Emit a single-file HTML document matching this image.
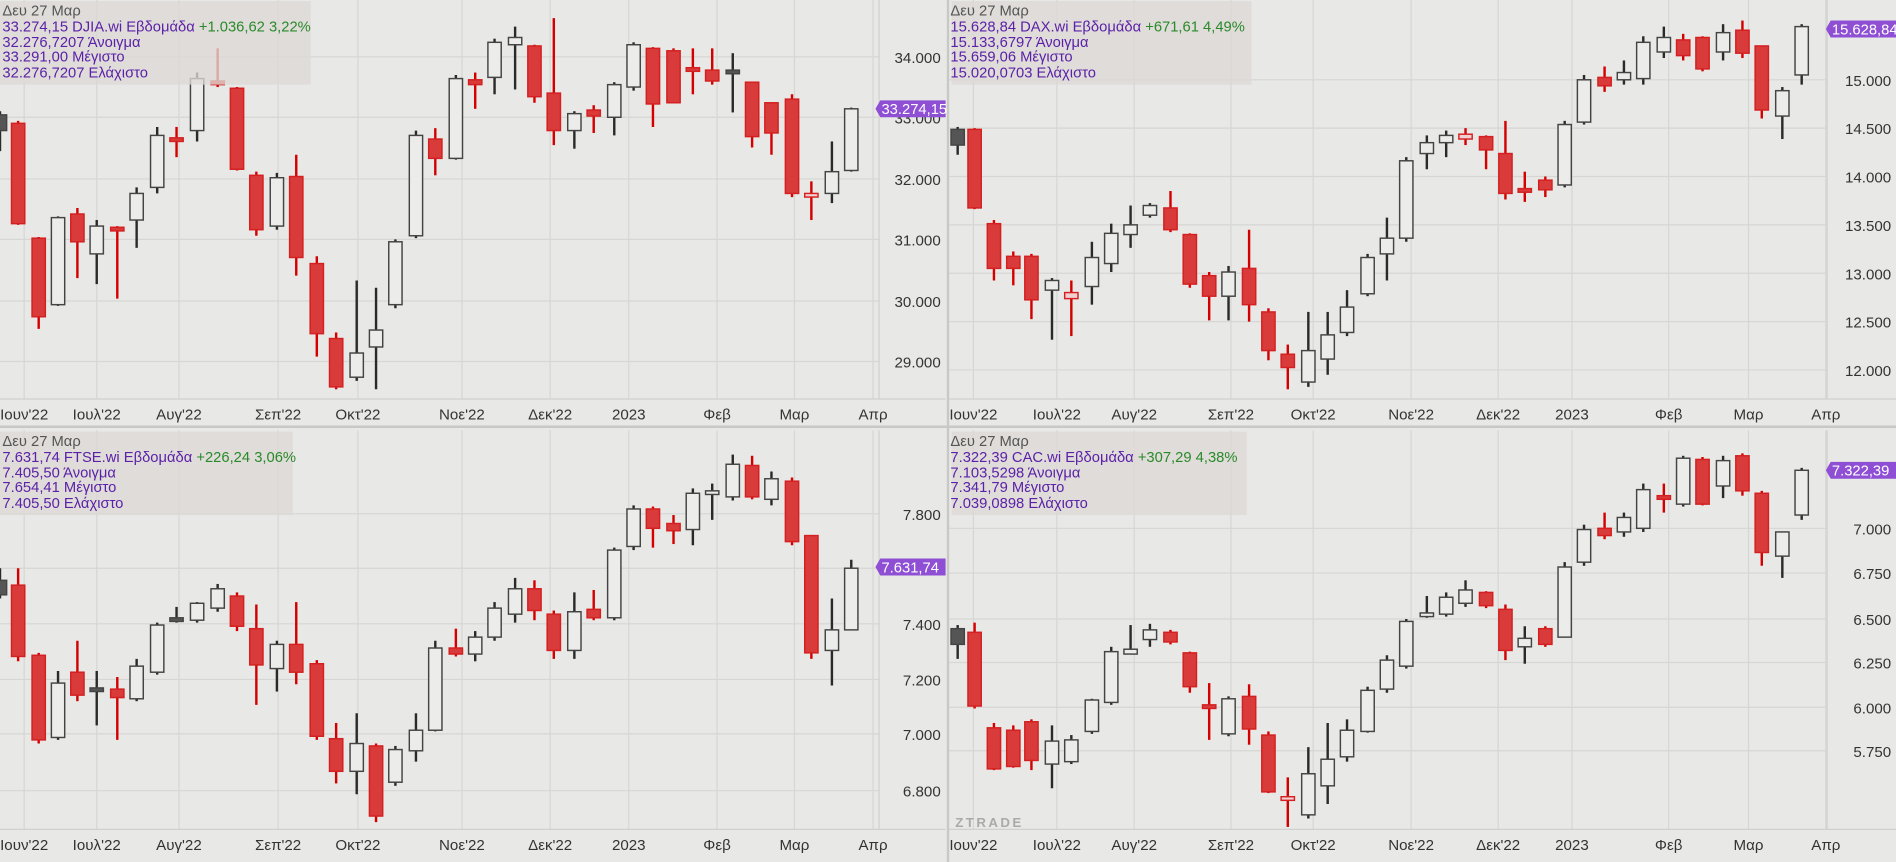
<!DOCTYPE html>
<html><head><meta charset="utf-8"><style>
html,body{margin:0;padding:0;background:#e8e8e6;overflow:hidden}
svg{display:block}
text{font-family:"Liberation Sans","DejaVu Sans",sans-serif}
</style></head><body>
<svg id="s" width="1896" height="862" viewBox="0 0 1568 713" preserveAspectRatio="none" xmlns="http://www.w3.org/2000/svg">
<rect width="1568" height="713" fill="#e8e8e6"/>
<g id="g"></g>
</svg>
<script>
const NS="http://www.w3.org/2000/svg",G=document.getElementById('g');
function el(t,a,txt){const e=document.createElementNS(NS,t);for(const k in a)e.setAttribute(k,a[k]);if(txt!=null)e.textContent=txt;G.appendChild(e);return e;}
function line(x1,y1,x2,y2,c,w){el('line',{x1,y1,x2,y2,stroke:c,'stroke-width':w||1});}
const months=["Ιουν'22","Ιουλ'22","Αυγ'22","Σεπ'22","Οκτ'22","Νοε'22","Δεκ'22","2023","Φεβ","Μαρ","Απρ"];
function panel(o){
 const {x0,y0,w,plotW,plotH,mx,yl,legend,price,data}=o;
 mx.forEach(x=>line(x0+x,y0,x0+x,y0+plotH,'#d6d6d4',1));
 yl.forEach(([t,y])=>{line(x0,y0+y,x0+plotW,y0+y,'#d6d6d4',1);
   el('text',{x:x0+w-4,y:y0+y+5,'font-size':12.5,fill:'#333','text-anchor':'end'},t);});
 line(x0+plotW,y0,x0+plotW,y0+plotH,'#d0d0ce',1);
 line(x0,y0+plotH,x0+w,y0+plotH,'#d0d0ce',1);
 mx.forEach((x,i)=>el('text',{x:x0+x,y:y0+plotH+17,'font-size':12.5,fill:'#333','text-anchor':'middle'},months[i]));
 data.forEach(([x,bt,bb,wt,wb,c])=>{
  line(x,wt,x,wb,c=='r'||c=='h'?'#d40000':'#2a2a2a',2);
  let h=Math.max(bb-bt,3);
  let fill=c=='r'?'#d93a3a':c=='g'?'#555':c=='h'?'#f0d0d0':'#ececea';
  let st=c=='r'||c=='h'?'#d42020':'#444';
  el('rect',{x:x-5.5,y:bt,width:11,height:h,fill,stroke:st,'stroke-width':1.2});
 });
 const [lx,lw,l]=legend;
 el('rect',{x:x0+lx,y:y0+1,width:lw,height:69,fill:'#dcd9d5','fill-opacity':0.78});
 el('text',{x:x0+2,y:y0+13,'font-size':12.2,fill:'#555'},'Δευ 27 Μαρ');
 const t=el('text',{x:x0+2,y:y0+26,'font-size':12.2,fill:'#5b21a8'});
 const s1=document.createElementNS(NS,'tspan');s1.textContent=l[0];t.appendChild(s1);
 const s2=document.createElementNS(NS,'tspan');s2.setAttribute('fill','#2a8a2a');s2.textContent=l[1];t.appendChild(s2);
 el('text',{x:x0+2,y:y0+39,'font-size':12.2,fill:'#5b21a8'},l[2]);
 el('text',{x:x0+2,y:y0+51,'font-size':12.2,fill:'#5b21a8'},l[3]);
 el('text',{x:x0+2,y:y0+64,'font-size':12.2,fill:'#5b21a8'},l[4]);
 const [pt,py]=price,px=x0+w-54;
 el('path',{d:`M${px-4} ${y0+py} L${px} ${y0+py-7} L${x0+w} ${y0+py-7} L${x0+w} ${y0+py+7} L${px} ${y0+py+7}Z`,fill:'#8e4fd4'});
 el('text',{x:px+1,y:y0+py+4.5,'font-size':12.2,fill:'#fff'},pt);
}
const mxL=[20,80,148,230,296,382,455,520,593,657,722];
const mxR=[21,90,154,234,302,383,455,516,596,662,726];
panel({x0:0,y0:0,w:782,plotW:727,plotH:330,mx:mxL,
 yl:[['34.000',47],['33.000',97],['32.000',148],['31.000',198],['30.000',249],['29.000',299]],
 legend:[0,257,['33.274,15 DJIA.wi Εβδομάδα ','+1.036,62 3,22%','32.276,7207 Άνοιγμα','33.291,00 Μέγιστο','32.276,7207 Ελάχιστο']],
 price:['33.274,15',90],
 data:[[0,95,108,92,125,'g'],[15,102,185,100,186,'r'],[32,197,262,196,272,'r'],[48,180,252,179,253,'w'],[64,177,200,172,230,'r'],[80,187,210,182,235,'w'],[97,188,190,187,247,'r'],[113,160,182,155,205,'w'],[130,112,155,105,160,'w'],[146,114,116,105,130,'r'],[163,65,108,60,117,'w'],[180,67,69,40,72,'r'],[196,73,140,72,141,'r'],[212,145,190,142,195,'r'],[229,147,187,143,190,'w'],[245,146,213,128,228,'r'],[262,218,276,212,295,'r'],[278,280,320,275,322,'r'],[295,292,312,232,315,'w'],[311,273,287,238,322,'w'],[327,200,252,198,255,'w'],[344,112,195,108,197,'w'],[360,115,131,106,145,'r'],[377,65,131,62,132,'w'],[393,66,70,60,90,'r'],[409,35,64,32,78,'w'],[426,31,37,22,74,'w'],[442,38,80,37,85,'r'],[458,77,108,15,120,'r'],[475,94,108,92,123,'w'],[491,91,96,87,110,'r'],[508,70,97,68,112,'w'],[524,37,72,35,75,'w'],[540,40,86,39,105,'r'],[557,42,85,40,85,'r'],[573,56,58,40,78,'r'],[589,58,67,40,70,'r'],[606,58,61,44,93,'g'],[622,68,113,68,122,'r'],[638,85,110,85,128,'r'],[655,82,160,78,163,'r'],[671,160,162,150,182,'h'],[688,142,160,117,168,'w'],[704,90,141,89,142,'w']]});
panel({x0:784,y0:0,w:784,plotW:727,plotH:330,mx:mxR,
 yl:[['15.000',66],['14.500',106],['14.000',146],['13.500',186],['13.000',226],['12.500',266],['12.000',306]],
 legend:[3,248,['15.628,84 DAX.wi Εβδομάδα ','+671,61 4,49%','15.133,6797 Άνοιγμα','15.659,06 Μέγιστο','15.020,0703 Ελάχιστο']],
 price:['15.628,84',24],
 data:[[792,107,120,105,128,'g'],[806,107,172,106,173,'r'],[822,185,222,182,232,'r'],[838,212,222,208,236,'r'],[853,212,248,210,264,'r'],[870,232,240,230,281,'w'],[886,242,247,232,278,'h'],[903,213,237,200,252,'w'],[919,193,218,185,225,'w'],[935,186,194,170,205,'w'],[951,170,178,168,180,'w'],[968,172,190,158,192,'r'],[984,194,235,193,238,'r'],[1000,228,245,225,265,'r'],[1016,225,245,220,265,'w'],[1033,222,252,190,266,'r'],[1049,258,290,255,298,'r'],[1065,293,304,285,322,'r'],[1082,290,316,258,320,'w'],[1098,277,297,258,310,'w'],[1114,254,275,240,278,'w'],[1131,213,243,210,245,'w'],[1147,197,210,180,232,'w'],[1163,133,197,130,200,'w'],[1180,118,127,112,140,'w'],[1196,112,118,108,130,'w'],[1212,111,115,106,120,'h'],[1229,113,124,112,140,'r'],[1245,127,160,100,165,'r'],[1261,156,158,142,167,'r'],[1278,149,157,146,163,'r'],[1294,103,153,100,155,'w'],[1310,66,101,62,103,'w'],[1327,64,71,55,76,'r'],[1343,60,66,50,70,'w'],[1359,35,65,30,70,'w'],[1376,31,43,22,48,'w'],[1392,33,46,28,50,'r'],[1408,31,57,30,59,'r'],[1425,27,43,20,50,'w'],[1441,25,44,17,48,'r'],[1457,38,91,38,98,'r'],[1474,75,96,72,115,'w'],[1490,22,62,20,70,'w']]});
panel({x0:0,y0:356,w:782,plotW:727,plotH:330,mx:mxL,
 yl:[['7.800',69],['7.600',114],['7.400',160],['7.200',206],['7.000',251],['6.800',298]],
 legend:[0,242,['7.631,74 FTSE.wi Εβδομάδα ','+226,24 3,06%','7.405,50 Άνοιγμα','7.654,41 Μέγιστο','7.405,50 Ελάχιστο']],
 price:['7.631,74',113],
 data:[[0,480,492,470,495,'g'],[15,484,543,470,547,'r'],[32,542,612,540,615,'r'],[48,565,610,555,612,'w'],[64,556,575,530,580,'r'],[80,569,571,555,600,'g'],[97,570,577,560,612,'r'],[113,551,578,545,580,'w'],[130,517,556,515,558,'w'],[146,511,513,502,515,'g'],[163,499,513,498,515,'w'],[180,487,503,483,506,'w'],[196,493,518,490,522,'r'],[212,520,550,500,583,'r'],[229,533,553,530,572,'w'],[245,533,556,498,566,'r'],[262,549,609,546,612,'r'],[278,611,638,598,648,'r'],[295,615,638,590,657,'w'],[311,617,675,615,680,'r'],[327,620,647,617,650,'w'],[344,604,621,590,630,'w'],[360,536,604,530,605,'w'],[377,536,541,520,543,'r'],[393,527,541,522,547,'w'],[409,503,527,498,530,'w'],[426,487,508,478,515,'w'],[442,487,505,480,513,'r'],[458,508,538,505,545,'r'],[475,506,538,490,545,'w'],[491,504,511,488,513,'r'],[508,455,511,453,513,'w'],[524,421,452,418,455,'w'],[540,421,437,419,453,'r'],[557,433,439,426,450,'r'],[573,408,438,404,451,'w'],[589,406,409,400,430,'w'],[606,384,411,376,414,'w'],[622,385,411,377,413,'r'],[638,396,413,390,418,'w'],[655,398,448,395,451,'r'],[671,443,540,443,545,'r'],[688,521,538,495,567,'w'],[704,470,521,463,521,'w']]});
panel({x0:784,y0:356,w:784,plotW:727,plotH:330,mx:mxR,
 yl:[['7.000',81],['6.750',118],['6.500',156],['6.250',192],['6.000',229],['5.750',265]],
 legend:[3,244,['7.322,39 CAC.wi Εβδομάδα ','+307,29 4,38%','7.103,5298 Άνοιγμα','7.341,79 Μέγιστο','7.039,0898 Ελάχιστο']],
 price:['7.322,39',33],
 data:[[792,520,533,517,545,'g'],[806,523,584,515,586,'r'],[822,602,636,598,637,'r'],[838,604,634,600,635,'r'],[853,597,629,595,637,'r'],[870,613,632,600,652,'w'],[886,612,630,608,632,'w'],[903,579,605,578,607,'w'],[919,539,581,535,583,'w'],[935,537,541,517,541,'w'],[951,521,529,516,535,'w'],[968,523,531,521,533,'r'],[984,540,568,539,573,'r'],[1000,583,586,565,612,'r'],[1016,578,607,576,609,'w'],[1033,576,603,566,616,'r'],[1049,608,655,605,656,'r'],[1065,659,662,643,684,'h'],[1082,640,674,618,677,'w'],[1098,628,650,598,665,'w'],[1114,604,626,595,630,'w'],[1131,571,605,568,606,'w'],[1147,546,570,542,573,'w'],[1163,514,551,512,553,'w'],[1180,507,509,493,511,'w'],[1196,494,508,490,510,'w'],[1212,488,499,480,502,'w'],[1229,490,501,489,503,'r'],[1245,504,538,500,546,'r'],[1261,528,535,518,549,'w'],[1278,520,533,518,535,'r'],[1294,469,527,465,527,'w'],[1310,438,465,434,468,'w'],[1327,437,443,424,446,'r'],[1343,428,440,424,444,'w'],[1359,405,437,400,440,'w'],[1376,410,412,400,424,'r'],[1392,379,417,377,419,'w'],[1408,380,417,378,418,'r'],[1425,381,402,377,412,'w'],[1441,377,406,375,410,'r'],[1457,408,457,406,468,'r'],[1474,440,460,440,478,'w'],[1490,389,426,387,430,'w']]});
line(784,0,784,713,'#c8c8c6',2);
line(0,353,1568,353,'#c8c8c6',2);
el('text',{x:790,y:684,'font-size':11,fill:'#aaa','letter-spacing':2,'font-weight':'bold'},'ZTRADE');
</script>
</body></html>
